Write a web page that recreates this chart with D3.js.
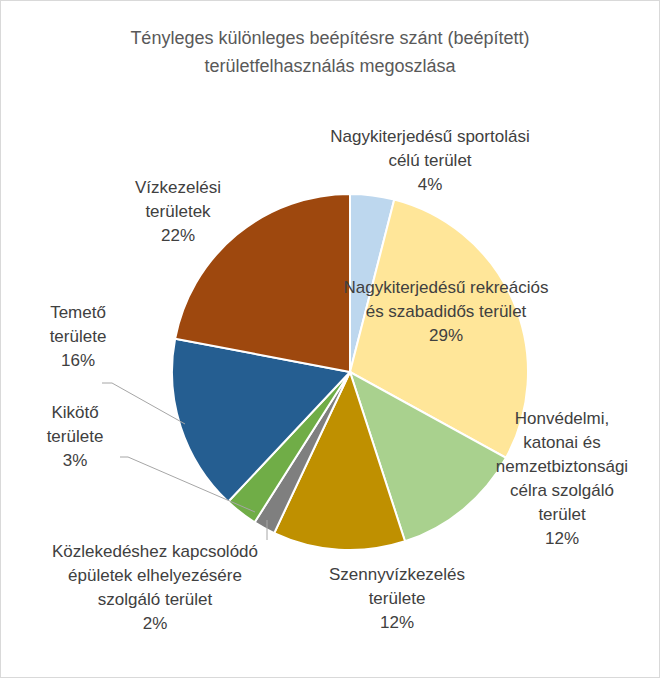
<!DOCTYPE html>
<html>
<head>
<meta charset="UTF-8" />
<script src="https://d3js.org/d3.v7.min.js"></script>
<style>
  body { margin: 0; background: #fff; }
  text { font-family: "Liberation Sans", "DejaVu Sans", sans-serif; fill: #404040; }
</style>
</head>
<body>
<svg id="chart"></svg>
<script>
// data
const categories = [
  "Nagykiterjedésű sportolási célú terület",
  "Nagykiterjedésű rekreációs és szabadidős terület",
  "Honvédelmi, katonai és nemzetbiztonsági célra szolgáló terület",
  "Szennyvízkezelés területe",
  "Közlekedéshez kapcsolódó épületek elhelyezésére szolgáló terület",
  "Kikötő területe",
  "Temető területe",
  "Vízkezelési területek"
];
const values = [4, 29, 12, 12, 2, 3, 16, 22];
const colors = ["#BDD7EE", "#FFE699", "#A9D18E", "#BF9000", "#7F7F7F", "#70AD47", "#255E91", "#9E480E"];
// label lines (layout): [x, y anchor, lines]
const labelLines = [
  ["Nagykiterjedésű sportolási", "célú terület"],
  ["Nagykiterjedésű rekreációs", "és szabadidős terület"],
  ["Honvédelmi,", "katonai és", "nemzetbiztonsági", "célra szolgáló", "terület"],
  ["Szennyvízkezelés", "területe"],
  ["Közlekedéshez kapcsolódó", "épületek elhelyezésére", "szolgáló terület"],
  ["Kikötő", "területe"],
  ["Temető", "területe"],
  ["Vízkezelési", "területek"]
];
const labelPos = [[430, 142, "middle"], [446, 293, "middle"], [562, 424, "middle"], [397, 580, "middle"],
                  [155, 557, "middle"], [75, 418, "middle"], [78, 318, "middle"], [178, 193, "middle"]];

const W = 660, H = 678, cx = 350, cy = 372, R = 178;
const svg = d3.select("#chart").attr("width", W).attr("height", H);
svg.append("rect").attr("x", 0.5).attr("y", 0.5).attr("width", W - 1).attr("height", H - 1)
  .attr("fill", "#fff").attr("stroke", "#d9d9d9");

svg.append("text").attr("x", W / 2).attr("y", 44).attr("text-anchor", "middle")
  .style("font-size", "18px").style("fill", "#595959")
  .text("Tényleges különleges beépítésre szánt (beépített)");
svg.append("text").attr("x", W / 2).attr("y", 72).attr("text-anchor", "middle")
  .style("font-size", "18px").style("fill", "#595959")
  .text("területfelhasználás megoszlása");

const pie = d3.pie().sort(null).value(d => d)(values);
const arc = d3.arc().innerRadius(0).outerRadius(R);
const g = svg.append("g").attr("transform", `translate(${cx},${cy})`);
g.selectAll("path").data(pie).enter().append("path")
  .attr("d", arc).attr("fill", (d, i) => colors[i])
  .attr("stroke", "#fff").attr("stroke-width", 2);

// leader lines
const leaders = [
  [[102, 383], [112, 383], [185, 424]],
  [[120, 457], [128, 457], [255, 512]],
  [[267, 520], [267, 540]]
];
svg.selectAll(".leader").data(leaders).enter().append("polyline")
  .attr("points", d => d.map(p => p.join(",")).join(" "))
  .attr("fill", "none").attr("stroke", "#a6a6a6").attr("stroke-width", 1);

const lh = 24;
labelLines.forEach((lines, i) => {
  const [x, y, anchor] = labelPos[i];
  const t = svg.append("text").attr("x", x).attr("y", y).attr("text-anchor", anchor)
    .style("font-size", "17px");
  lines.concat([values[i] + "%"]).forEach((s, j) => {
    t.append("tspan").attr("x", x).attr("dy", j === 0 ? 0 : lh).text(s);
  });
});
</script>
</body>
</html>
